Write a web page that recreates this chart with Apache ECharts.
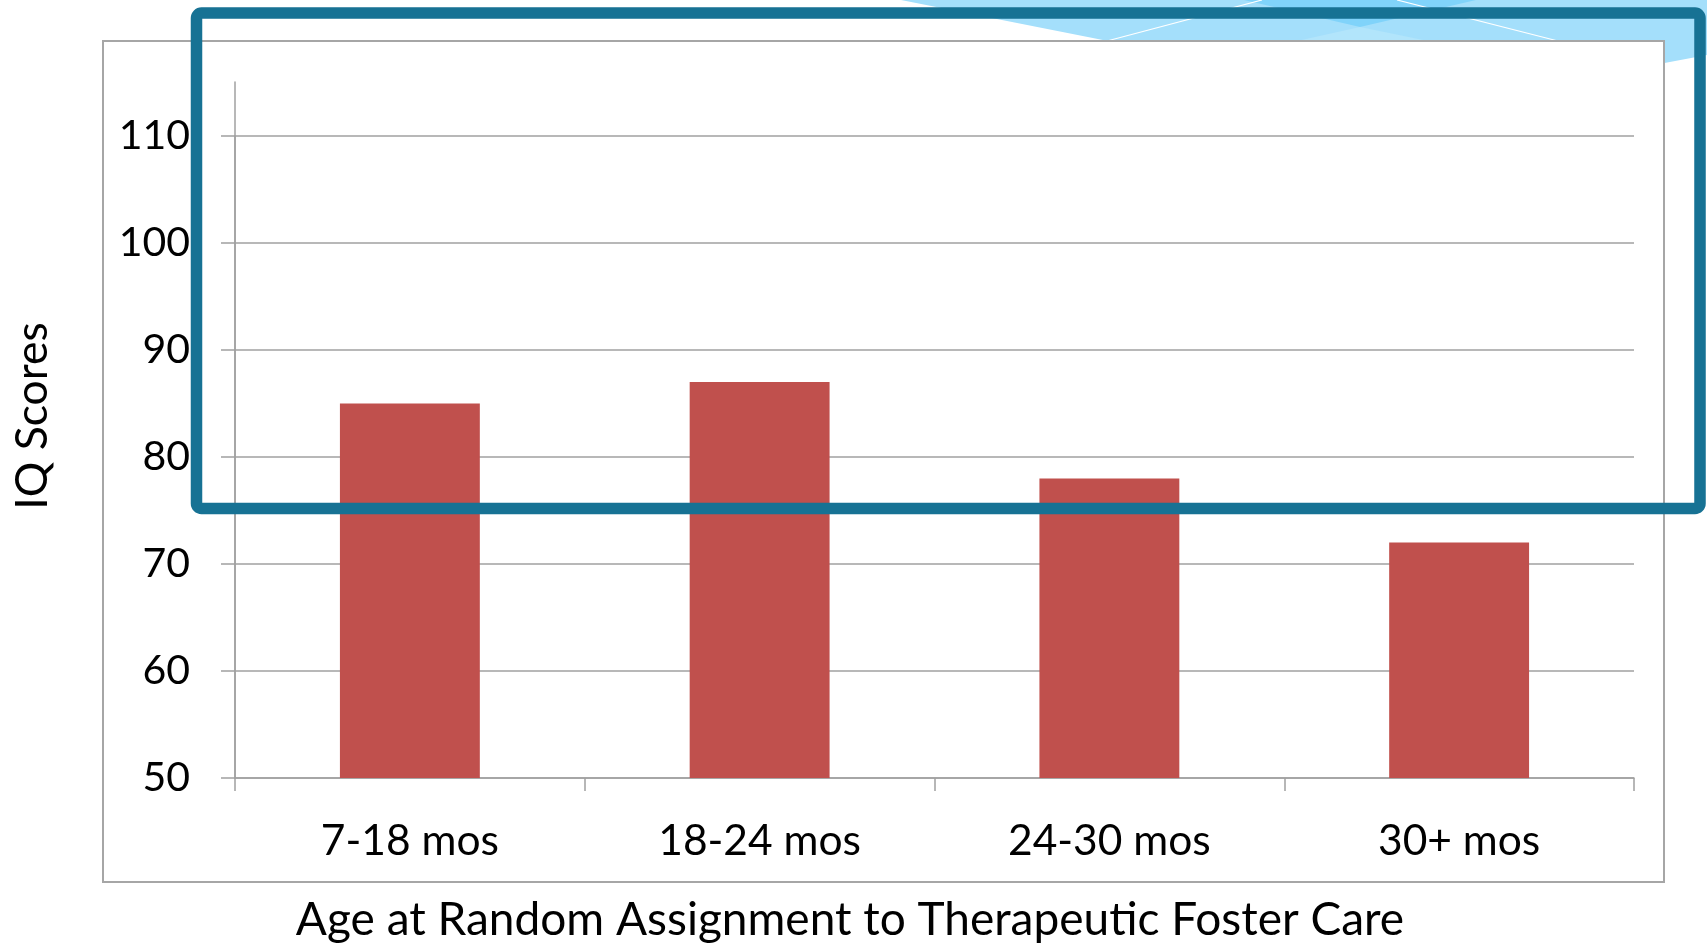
<!DOCTYPE html>
<html>
<head>
<meta charset="utf-8">
<script src="https://cdn.jsdelivr.net/npm/echarts@6/dist/echarts.min.js"></script>
<style>
html,body{margin:0;padding:0;background:#fff;}
#chart{width:1707px;height:946px;}
</style>
</head>
<body>
<div id="chart"></div>
<script>
const categories = ['7-18 mos', '18-24 mos', '24-30 mos', '30+ mos'];
const iqScores = [85, 87, 78, 72];
const yTicks = { min: 50, max: 110, interval: 10 };
const xTitle = 'Age at Random Assignment to Therapeutic Foster Care';
const yTitle = 'IQ Scores';

const FONT = 'Lato';
const GRAY = '#a0a0a0';
const chart = echarts.init(document.getElementById('chart'), null, { renderer: 'canvas' });

chart.setOption({
  animation: false,
  backgroundColor: '#ffffff',
  grid: [
    { left: 235, right: 73, top: 136, bottom: 168 },
    { left: 235, right: 73, top: 82, bottom: 168 }
  ],
  xAxis: [
    {
      type: 'category',
      gridIndex: 0,
      data: categories,
      boundaryGap: true,
      axisLine: { lineStyle: { color: GRAY, width: 1.5 } },
      axisTick: { show: true, length: 13, inside: false, alignWithLabel: false, lineStyle: { color: GRAY, width: 1.5 } },
      axisLabel: { margin: 42, color: '#000', fontFamily: FONT, fontSize: 42.5 }
    },
    { type: 'category', gridIndex: 1, show: false, data: categories }
  ],
  yAxis: [
    {
      type: 'value',
      gridIndex: 0,
      min: yTicks.min,
      max: yTicks.max,
      interval: yTicks.interval,
      axisLine: { show: true, lineStyle: { color: GRAY, width: 1.5 } },
      axisTick: { show: true, length: 14, inside: false, lineStyle: { color: GRAY, width: 1.5 } },
      axisLabel: { margin: 45, color: '#000', fontFamily: FONT, fontSize: 41 },
      splitLine: { show: true, lineStyle: { color: GRAY, width: 1.5 } }
    },
    {
      type: 'value',
      gridIndex: 1,
      min: 0,
      max: 1,
      axisLine: { show: true, lineStyle: { color: GRAY, width: 1.5 } },
      axisTick: { show: false },
      axisLabel: { show: false },
      splitLine: { show: false }
    }
  ],
  series: [
    {
      type: 'bar',
      xAxisIndex: 0,
      yAxisIndex: 0,
      data: iqScores,
      barWidth: '40%',
      itemStyle: { color: '#c0504d' },
      z: 3
    }
  ],
  graphic: [
    // slide background decoration (top right)
    { type: 'polygon', z: -30, silent: true,
      shape: { points: [[901, 0], [1707, 0], [1707, 55], [1436, 106]] },
      style: { fill: '#a4dffb' } },
    { type: 'polygon', z: -29, silent: true,
      shape: { points: [[1297, 41], [1360, 27], [1428, 41]] },
      style: { fill: '#b2e5fb' } },
    { type: 'polygon', z: -29, silent: true,
      shape: { points: [[1244, 0], [1476, 0], [1360, 27]] },
      style: { fill: '#80d3fa' } },
    { type: 'line', z: -28, silent: true,
      shape: { x1: 1107, y1: 41, x2: 1262, y2: 0 },
      style: { stroke: '#ffffff', lineWidth: 1.2 } },
    { type: 'line', z: -28, silent: true,
      shape: { x1: 1397, y1: 0, x2: 1558, y2: 41 },
      style: { stroke: '#ffffff', lineWidth: 1.2 } },
    // chart area box
    { type: 'rect', z: -20, silent: true,
      shape: { x: 103, y: 41, width: 1561, height: 841 },
      style: { fill: '#ffffff', stroke: '#a6a6a6', lineWidth: 2 } },
    // titles
    { type: 'text', z: 10, silent: true,
      x: 850, y: 920,
      style: { text: xTitle, fontFamily: FONT, fontSize: 46, fill: '#000', align: 'center', verticalAlign: 'middle' } },
    { type: 'text', z: 10, silent: true,
      x: 33, y: 416, rotation: Math.PI / 2,
      style: { text: yTitle, fontFamily: FONT, fontSize: 44.5, fill: '#000', align: 'center', verticalAlign: 'middle' } },
    // highlight frame
    { type: 'rect', z: 100, silent: true,
      shape: { x: 196.5, y: 13, width: 1503.5, height: 495.5, r: 5 },
      style: { fill: 'none', stroke: '#177294', lineWidth: 11.5 } }
  ]
});
</script>
</body>
</html>
